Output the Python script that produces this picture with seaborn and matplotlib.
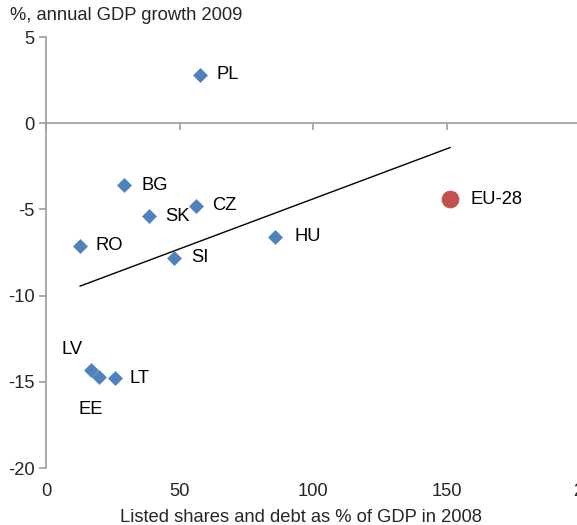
import numpy as np
import pandas as pd
import matplotlib
matplotlib.use("Agg")
import matplotlib.pyplot as plt
import matplotlib.transforms as mtrans
import seaborn as sns

# Data
countries = ["PL", "BG", "CZ", "SK", "RO", "SI", "HU", "LV", "EE", "LT"]
market_size = [57.5, 29.1, 56.0, 38.4, 12.7, 47.8, 85.8, 16.9, 19.9, 25.8]
gdp_growth = [2.8, -3.6, -4.8, -5.4, -7.1, -7.8, -6.6, -14.3, -14.7, -14.8]
eu_label = ["EU-28"]
eu_market_size = [151.4]
eu_gdp_growth = [-4.4]
x_ticks = [0, 50, 100, 150, 200]
y_ticks = [5, 0, -5, -10, -15, -20]

sns.set_theme(style="white")
plt.rcParams["font.family"] = ["Liberation Sans", "DejaVu Sans"]

cee = pd.DataFrame({"country": countries, "x": market_size, "y": gdp_growth})
eu = pd.DataFrame({"country": eu_label, "x": eu_market_size, "y": eu_gdp_growth})
alldf = pd.concat([cee, eu], ignore_index=True)

FS = 13.2

fig = plt.figure(figsize=(5.77, 5.25), dpi=100)
ax = fig.add_axes([46 / 577, 1 - 468 / 525, (580 - 46) / 577, (468 - 37) / 525])

sns.regplot(data=alldf, x="x", y="y", ax=ax, scatter=False, ci=None, truncate=True,
            line_kws={"color": "black", "lw": 1.0})
sns.scatterplot(data=cee, x="x", y="y", ax=ax, marker="D", s=50, color="#4F81BD",
                edgecolor="#4F81BD", linewidth=0.5, zorder=3)
sns.scatterplot(data=eu, x="x", y="y", ax=ax, marker="o", s=150, color="#C0504D",
                edgecolor="#C0504D", linewidth=0.5, zorder=3)

offsets = {"PL": (17, 0), "BG": (18, 0), "CZ": (17, 0), "SK": (17, 0), "RO": (16, 0),
           "SI": (18, 0), "HU": (19, 0), "LV": (-30, 20), "EE": (-21, -33), "LT": (15, 0),
           "EU-28": (20, 0)}
for _, r in alldf.iterrows():
    dx, dy = offsets[r["country"]]
    ax.annotate(r["country"], (r["x"], r["y"]), xytext=(dx, dy), textcoords="offset pixels",
                ha="left", va="center", fontsize=FS, color="black")

ax.set_xlim(0, 200)
ax.set_ylim(-20, 5)
ax.set_xticks(x_ticks)
ax.set_yticks(y_ticks)
ax.set_yticklabels([str(v) for v in y_ticks], fontsize=FS)

for s in ["top", "right"]:
    ax.spines[s].set_visible(False)
ax.spines["left"].set_color("#A0A0A0")
ax.spines["bottom"].set_position(("data", 0))
ax.spines["bottom"].set_color("#A0A0A0")
ax.tick_params(axis="y", direction="out", length=5, color="#A0A0A0", left=True, pad=3)
ax.tick_params(axis="x", direction="out", length=5, color="#A0A0A0", bottom=True,
               labelbottom=False)
ax.set_xlabel("")
ax.set_ylabel("")

sec = ax.secondary_xaxis("bottom")
sec.set_xticks(x_ticks)
sec.set_xticklabels([str(v) for v in x_ticks], fontsize=FS)
sec.tick_params(length=0, pad=11)
sec.spines["bottom"].set_visible(False)
sec.set_xlabel("Listed shares and debt as % of GDP in 2008", fontsize=FS)
sec.xaxis.set_label_coords((301 - 46) / (580 - 46), -(509 - 468) / 431,
                           transform=ax.transAxes)
last = sec.get_xticklabels()[-1]
last.set_transform(last.get_transform() + mtrans.ScaledTranslation(8 / 100, 0, fig.dpi_scale_trans))

fig.text(10 / 577, 1 - 15 / 525, "%, annual GDP growth 2009", fontsize=FS,
         ha="left", va="center")

fig.savefig("out.png", dpi=100)
